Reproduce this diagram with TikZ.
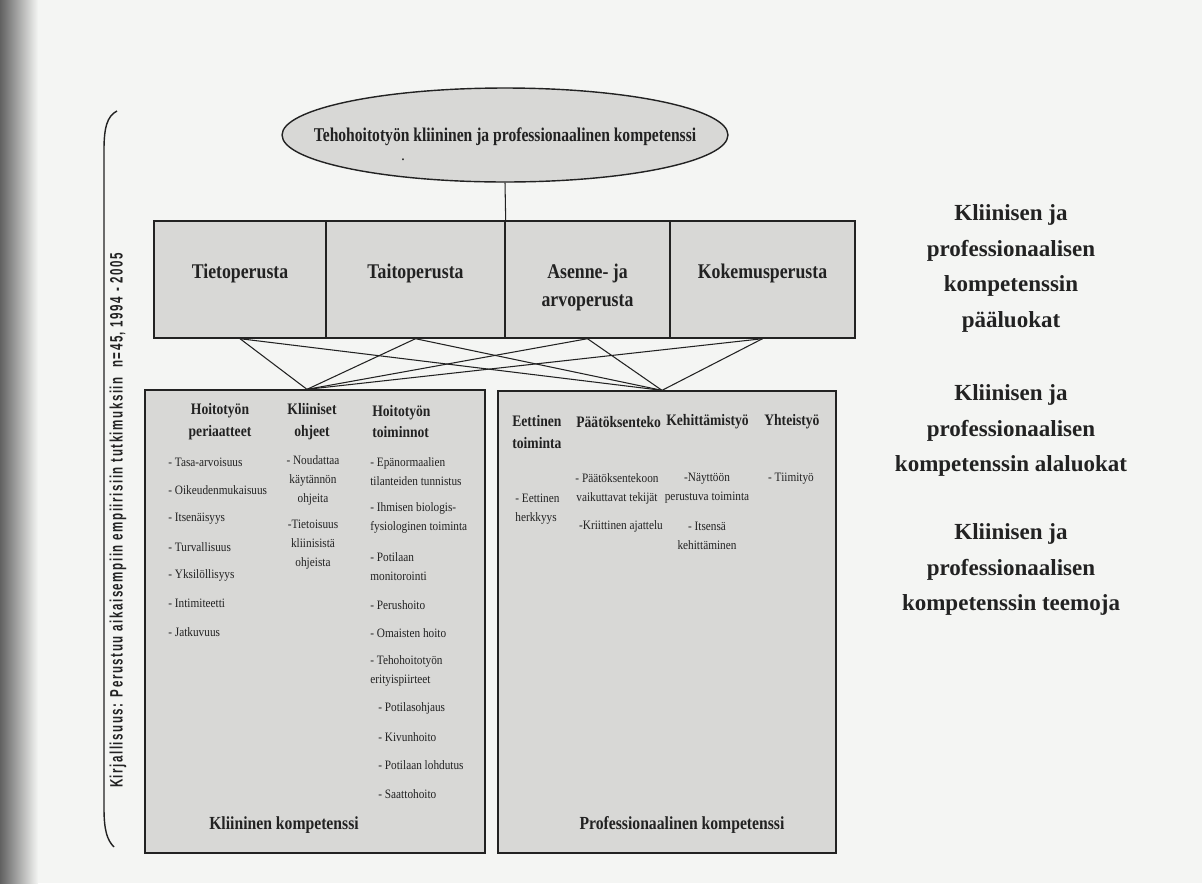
\documentclass[tikz,border=0pt]{standalone}
\usepackage{fontspec}
\setmainfont{Liberation Serif}
\setsansfont{Liberation Sans}
\newfontfamily\condfont[FakeStretch=0.85]{Liberation Serif}
\newfontfamily\ellfont[FakeStretch=0.8]{Liberation Serif}
\newfontfamily\itemfont[FakeStretch=0.88]{Liberation Serif}
\newfontfamily\srcfont[FakeStretch=0.6,LetterSpace=8]{Liberation Sans}
\usetikzlibrary{shapes.geometric,calc}

\definecolor{pagebg}{HTML}{F4F5F3}
\definecolor{boxfill}{HTML}{D8D8D6}
\definecolor{inkc}{HTML}{222222}

\tikzset{
  pbase/.style={ellipse, draw=inkc, fill=boxfill, line width=0.8pt, inner sep=0pt,
    minimum width=8.92cm, minimum height=1.88cm},
  ptext/.style={inner sep=0pt, text=inkc,
    font=\ellfont\bfseries\fontsize{11.1}{13}\selectfont},
  basecell/.style={rectangle, draw=inkc, fill=boxfill, line width=0.8pt, inner sep=0pt,
    minimum height=2.34cm},
  celltext/.style={inner sep=0pt, align=center, text=inkc,
    font=\condfont\bfseries\fontsize{11.9}{15.9}\selectfont},
  compbox/.style={rectangle, draw=inkc, fill=boxfill, line width=0.8pt, inner sep=0pt},
  head/.style={inner sep=0pt, align=center, text=inkc,
    font=\condfont\bfseries\fontsize{9.1}{12.5}\selectfont},
  item/.style={inner sep=0pt, align=left, text=inkc,
    font=\itemfont\fontsize{7.3}{10.8}\selectfont},
  citem/.style={item, align=center},
  comptitle/.style={inner sep=0pt, text=inkc,
    font=\condfont\bfseries\fontsize{10.5}{13}\selectfont},
  level/.style={inner sep=0pt, align=center, text=inkc,
    font=\bfseries\fontsize{13.1}{20.3}\selectfont},
  link/.style={draw=inkc, line width=0.6pt}
}

\begin{document}
\begin{tikzpicture}[x=0.02cm, y=-0.02cm]
    % Page
    \fill[pagebg] (0,0) rectangle (1202,883);
    \shade[left color=black!62, middle color=black!28, right color=pagebg] (0,0) rectangle (38,883);
    \useasboundingbox (0,0) rectangle (1202,883);

    % Main concept
    \node[pbase] (main) at (505,135) {};
    \node[ptext] (maintext) at (505,137) {Tehohoitotyön kliininen ja professionaalinen kompetenssi};
    \node[inner sep=0pt, text=inkc, font=\small] (dot) at (403,160) {.};

    % Main classes
    \node[basecell, minimum width=3.44cm] (tieto) at (240,279.5) {};
    \node[basecell, minimum width=3.58cm] (taito) at (415.5,279.5) {};
    \node[basecell, minimum width=3.30cm] (asenne) at (587.5,279.5) {};
    \node[basecell, minimum width=3.70cm] (koke) at (762.5,279.5) {};
    \node[celltext] (tietolbl) at (240,273) {Tietoperusta};
    \node[celltext] (taitolbl) at (415.5,273) {Taitoperusta};
    \node[celltext] (asennelbl) at (587.5,287) {Asenne- ja\\arvoperusta};
    \node[celltext] (kokelbl) at (762.5,273) {Kokemusperusta};
    \draw[link] (main.south) -- (taito.north east);

    % Competence boxes
    \node[compbox, minimum width=6.8cm, minimum height=9.26cm] (klbox) at (315,621.5) {};
    \node[compbox, minimum width=6.76cm, minimum height=9.24cm] (prbox) at (667,622) {};
    \coordinate (kltop) at ($(klbox.north)+(-8,0)$);
    \coordinate (prtop) at ($(prbox.north)+(-5,0)$);
    \foreach \c in {tieto,taito,asenne,koke} {
        \draw[link] (\c.south) -- (kltop);
        \draw[link] (\c.south) -- (prtop);
    }

    % Clinical competence
    \node[head] (periaat) at (220,421.5) {Hoitotyön\\periaatteet};
    \node[head] (ohjeet) at (312,421.5) {Kliiniset\\ohjeet};
    \node[head, align=left, anchor=west] (toimin) at (372,421.5) {Hoitotyön\\toiminnot};
    \foreach \txt [count=\i] in {- Tasa-arvoisuus, - Oikeudenmukaisuus, - Itsenäisyys,
        - Turvallisuus, - Yksilöllisyys, - Intimiteetti, - Jatkuvuus}
        \node[item, anchor=west] (per\i) at (168,{462+28.3*(\i-1)}) {\txt};
    \node[citem] (ohj1) at (313,480) {- Noudattaa\\käytännön\\ohjeita};
    \node[citem] (ohj2) at (313,545) {-Tietoisuus\\kliinisistä\\ohjeista};
    \foreach \xx/\yy/\txt [count=\i] in {370/472/{- Epänormaalien\\tilanteiden tunnistus},
        370/518/{- Ihmisen biologis-\\fysiologinen toiminta},
        370/567/{- Potilaan\\monitorointi},
        370/605/{- Perushoito},
        370/633/{- Omaisten hoito},
        370/671/{- Tehohoitotyön\\erityispiirteet},
        378/708/{- Potilasohjaus},
        378/737/{- Kivunhoito},
        378/765/{- Potilaan lohdutus},
        378/794/{- Saattohoito}}
        \node[item, anchor=west] (toi\i) at (\xx,\yy) {\txt};
    \node[comptitle] (kltitle) at (284,825) {Kliininen kompetenssi};

    % Professional competence
    \node[head, align=left, anchor=west] (eett) at (512,432) {Eettinen\\toiminta};
    \node[head, anchor=west] (paat) at (576,422) {Päätöksenteko};
    \node[head, anchor=west] (kehi) at (666,422) {Kehittämistyö};
    \node[head, anchor=west] (yhte) at (764,422) {Yhteistyö};
    \node[item, anchor=west] (eett1) at (515,509.5) {- Eettinen\\herkkyys};
    \node[citem] (paat1) at (617,488.5) {- Päätöksentekoon\\vaikuttavat tekijät};
    \node[citem] (paat2) at (621,526) {-Kriittinen ajattelu};
    \node[citem] (kehi1) at (707,488.5) {-Näyttöön\\perustuva toiminta};
    \node[citem] (kehi2) at (707,535.5) {- Itsensä\\kehittäminen};
    \node[citem] (yhte1) at (791,479) {- Tiimityö};
    \node[comptitle] (prtitle) at (682,825) {Professionaalinen kompetenssi};

    % Level labels
    \node[level] (lvmain) at (1011,268.5) {Kliinisen ja\\professionaalisen\\kompetenssin\\pääluokat};
    \node[level] (lvsub) at (1011,430.5) {Kliinisen ja\\professionaalisen\\kompetenssin alaluokat};
    \node[level] (lvtheme) at (1011,569.5) {Kliinisen ja\\professionaalisen\\kompetenssin teemoja};

    % Source bracket
    \draw[inkc, line width=0.8pt] (117,111) .. controls (107,116) and (104,128) .. (104,150)
        -- (104,808) .. controls (104,830) and (107,840) .. (114,847);
    \node[rotate=90, inner sep=0pt, text=inkc] (src) at (118,520.5)
        {\resizebox{10.7cm}{0.26cm}{\srcfont\bfseries Kirjallisuus: Perustuu aikaisempiin empiirisiin tutkimuksiin\ \ n=45, 1994 - 2005}};
\end{tikzpicture}
\end{document}
